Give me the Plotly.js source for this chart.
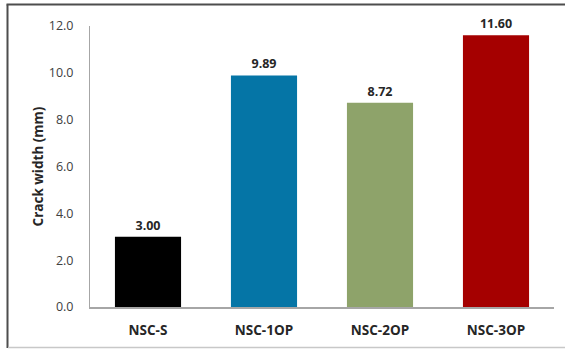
<!DOCTYPE html>
<html>
<head>
<meta charset="utf-8">
<script src="https://cdn.plot.ly/plotly-3.0.1.min.js"></script>
<style>html,body{margin:0;padding:0;background:#fff;}#chart{width:565px;height:349px;}</style>
</head>
<body>
<div id="chart"></div>
<script>
const categories = ["NSC-S", "NSC-1OP", "NSC-2OP", "NSC-3OP"];
const crackWidth = [3.00, 9.89, 8.72, 11.60];
const barColors = ["#000000", "#0575A6", "#8EA36A", "#A50000"];
const yTickVals = [0, 2, 4, 6, 8, 10, 12];
const yTickText = ["0.0", "2.0", "4.0", "6.0", "8.0", "10.0", "12.0"];

const font = "Open Sans, Liberation Sans, sans-serif";

const trace = {
  type: "bar",
  x: categories,
  y: crackWidth,
  marker: { color: barColors, line: { width: 0 } },
  text: crackWidth.map(v => v.toFixed(2)),
  textposition: "outside",
  textfont: { family: font, size: 12.5, color: "#262626", weight: "bold" },
  cliponaxis: false,
  hoverinfo: "none"
};

const W = 464, H = 281;
const layout = {
  width: 565, height: 349,
  margin: { l: 90, r: 11, t: 26, b: 42 },
  paper_bgcolor: "#ffffff",
  plot_bgcolor: "#ffffff",
  showlegend: false,
  bargap: 0.43,
  xaxis: {
    showgrid: false,
    showline: true, linecolor: "#A6A6A6", linewidth: 2,
    ticks: "",
    ticklabelstandoff: 10,
    tickfont: { family: font, size: 13.5, color: "#262626", weight: "bold" },
    fixedrange: true
  },
  yaxis: {
    range: [0, 12],
    tickvals: yTickVals,
    ticktext: yTickText,
    showgrid: false, zeroline: false,
    showline: true, linecolor: "#A6A6A6", linewidth: 1,
    ticks: "",
    ticklabelstandoff: 13,
    tickfont: { family: font, size: 12.5, color: "#404040" },
    title: { text: "Crack width (mm)", font: { family: font, size: 13.5, color: "#262626", weight: "bold" }, standoff: 2 },
    fixedrange: true
  },
  shapes: [
    { type: "line", xref: "paper", yref: "paper", x0: (7.5-90)/W, x1: (7.5-90)/W, y0: -(348-307)/H, y1: 1+(26-4.5)/H, line: { color: "#4D4D4D", width: 2 } },
    { type: "line", xref: "paper", yref: "paper", x0: (6.5-90)/W, x1: (566-90)/W, y0: 1+(26-4.5)/H, y1: 1+(26-4.5)/H, line: { color: "#4D4D4D", width: 2 } },
    { type: "line", xref: "paper", yref: "paper", x0: (8-90)/W, x1: (566-90)/W, y0: -(347.5-307)/H, y1: -(347.5-307)/H, line: { color: "#C8C8C8", width: 1.5 } }
  ]
};

Plotly.newPlot("chart", [trace], layout, { displayModeBar: false, staticPlot: true });
</script>
</body>
</html>
